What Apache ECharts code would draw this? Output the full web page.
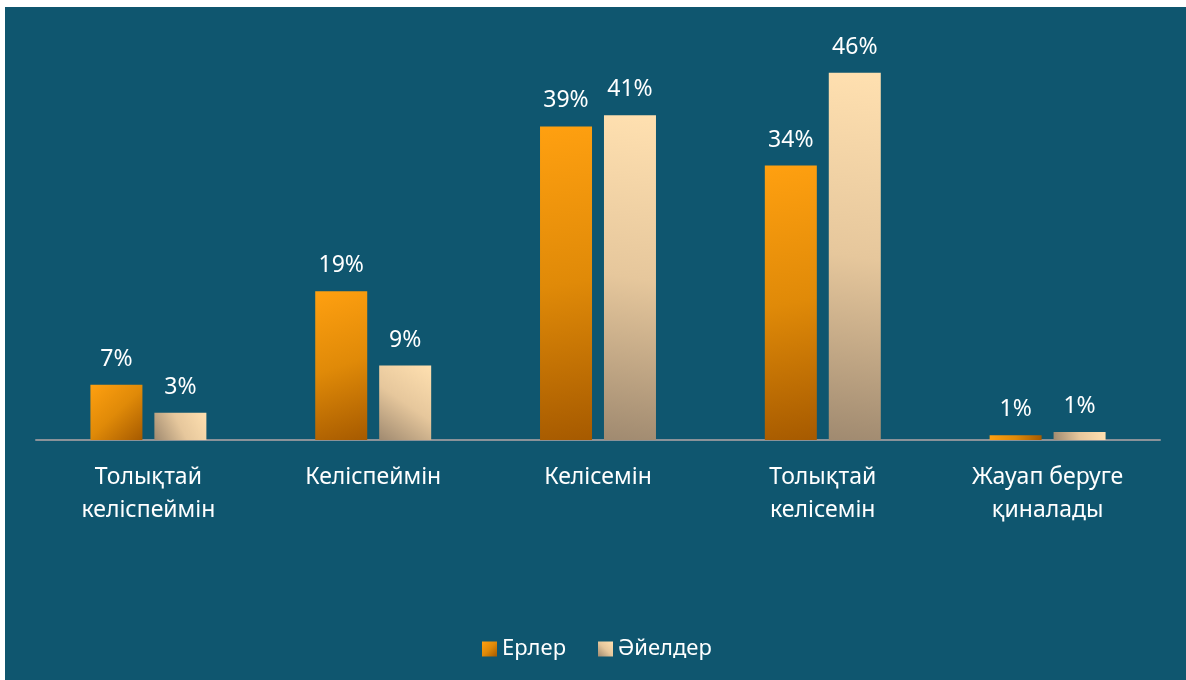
<!DOCTYPE html>
<html>
<head>
<meta charset="utf-8">
<script src="https://cdn.jsdelivr.net/npm/echarts@6/dist/echarts.min.js"></script>
<style>
    html, body { margin: 0; padding: 0; background: #ffffff; }
    #main { position: absolute; left: 5px; top: 7px; width: 1181px; height: 673px; }
</style>
</head>
<body>
<div id="main"></div>
<script>
var categories = ['Толықтай\nкеліспеймін', 'Келіспеймін', 'Келісемін', 'Толықтай\nкелісемін', 'Жауап беруге\nқиналады'];
var menValues = [6.9, 18.6, 39.2, 34.3, 0.6];
var womenValues = [3.4, 9.3, 40.6, 45.9, 1.0];
var seriesNames = ['Ерлер', 'Әйелдер'];

var fontName = '"Noto Sans", sans-serif';

// градиенты как в исходной диаграмме
var menColor = new echarts.graphic.LinearGradient(0, 0, 1, 1, [
    { offset: 0, color: '#ffa010' },
    { offset: 0.5, color: '#e08a08' },
    { offset: 1, color: '#a65a00' }
]);
var womenColor = new echarts.graphic.LinearGradient(1, 0, 0, 1, [
    { offset: 0, color: '#ffe0b0' },
    { offset: 0.5, color: '#e6c79c' },
    { offset: 1, color: '#a08a70' }
]);

var labelOpt = {
    show: true,
    position: 'top',
    distance: 14,
    color: '#ffffff',
    fontFamily: fontName,
    fontSize: 23,
    formatter: function (p) { return Math.round(p.value) + '%'; }
};

var myChart = echarts.init(document.getElementById('main'));
myChart.setOption({
    backgroundColor: '#0f566f',
    animation: false,
    legend: {
        data: seriesNames,
        top: 626,
        left: 472,
        icon: 'rect',
        itemWidth: 15,
        itemHeight: 15,
        itemGap: 32,
        textStyle: { color: '#ffffff', fontFamily: fontName, fontSize: 22 }
    },
    grid: { left: 31, right: 26, top: 33, bottom: 240 },
    xAxis: {
        type: 'category',
        data: categories,
        axisLine: { lineStyle: { color: '#8a9299', width: 2 } },
        axisTick: { show: false },
        axisLabel: {
            color: '#ffffff',
            fontFamily: fontName,
            fontSize: 23,
            margin: 21,
            lineHeight: 33,
            interval: 0
        }
    },
    yAxis: {
        type: 'value',
        min: 0,
        max: 50,
        show: false,
        splitLine: { show: false }
    },
    series: [
        {
            name: seriesNames[0],
            type: 'bar',
            data: menValues,
            barWidth: 52,
            barGap: '23%',
            itemStyle: { color: menColor },
            label: labelOpt
        },
        {
            name: seriesNames[1],
            type: 'bar',
            data: womenValues,
            barWidth: 52,
            itemStyle: { color: womenColor },
            label: labelOpt
        }
    ]
});
</script>
</body>
</html>
